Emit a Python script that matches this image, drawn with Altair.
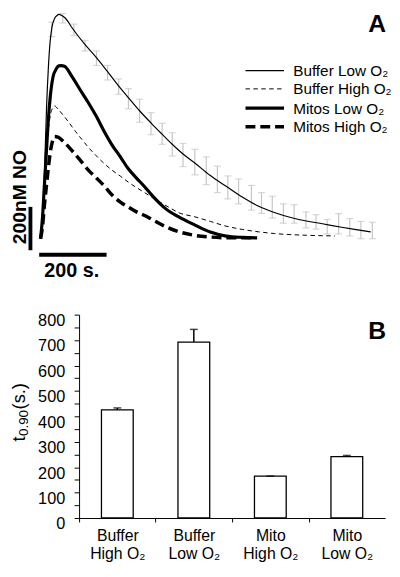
import altair as alt
import pandas as pd

# ---------------- Panel A: NO traces (time in s, concentration in nM) ----------------
bl_t = [0, 4, 9, 13, 18, 23, 28, 34, 42, 49, 54, 63, 74, 94, 131, 166, 200, 231, 260, 294,
        329, 360, 391, 423, 457, 503, 551, 600, 646, 694, 743, 789, 837, 894, 937, 980]
bl_c = [0, 71, 191, 369, 613, 782, 902, 978, 1018, 1031, 1036, 1031, 1018, 973, 898, 836, 769, 707, 653, 591,
        533, 484, 436, 391, 351, 293, 242, 191, 151, 121, 98, 82, 69, 53, 42, 32]

bh_t = [0, 6, 11, 17, 23, 29, 36, 42, 51, 66, 86, 104, 123, 142, 166, 189, 211, 237, 260, 285,
        309, 331, 360, 389, 409, 456, 504, 551, 599, 647, 694, 789, 874]
bh_c = [0, 102, 236, 391, 502, 569, 604, 613, 600, 573, 533, 495, 458, 422, 382, 347, 318, 289, 262, 236,
        213, 191, 164, 138, 121, 102, 80, 58, 43, 32, 24, 16, 13]

ml_t = [0, 6, 11, 17, 23, 29, 37, 46, 54, 61, 71, 94, 117, 142, 166, 189, 211, 237, 260, 285,
        309, 331, 371, 409, 456, 504, 551, 599, 643]
ml_c = [0, 102, 236, 391, 547, 658, 747, 782, 798, 799, 796, 747, 689, 628, 564, 495, 436, 378, 324, 280,
        240, 200, 139, 102, 65, 31, 12, 6, 4]

mh_t = [0, 6, 11, 17, 23, 29, 36, 42, 54, 71, 94, 117, 142, 166, 189, 211, 237, 260, 285, 309,
        331, 371, 409, 456, 504, 560, 637]
mh_c = [0, 58, 147, 236, 324, 400, 453, 472, 467, 444, 406, 364, 317, 280, 244, 204, 169, 147, 124, 107,
        89, 56, 33, 16, 8, 4, 4]

# error bars on Buffer Low O2
err_t = [33, 66, 99, 132, 166, 199, 232, 261, 294, 328, 361, 391, 423, 458, 492, 525, 556, 588, 626, 656,
         688, 721, 753, 788, 818, 851, 885, 918, 951, 985]
err_hi = [1000, 1040, 991, 916, 867, 800, 738, 693, 644, 582, 533, 489, 440, 413, 378, 335, 290, 276, 246, 213,
          196, 161, 157, 124, 111, 89, 116, 93, 80, 76]
err_lo = [933, 996, 938, 867, 800, 733, 667, 600, 538, 480, 436, 382, 333, 295, 250, 213, 184, 161, 132, 117,
          95, 72, 72, 50, 44, 22, 22, 13, 0, 0]

series_names = ["Buffer Low O\u2082", "Buffer High O\u2082", "Mitos Low O\u2082", "Mitos High O\u2082"]

# scale bars: 200 nM and 200 s
sbar_v_t = [-30]
sbar_v_c = [-53, 147]
sbar_h_t = [-4, 196]
sbar_h_c = [-74]

# ---------------- Panel B: t0.90 bars ----------------
categories = ["Buffer\nHigh O\u2082", "Buffer\nLow O\u2082", "Mito\nHigh O\u2082", "Mito\nLow O\u2082"]
t90 = [425, 692, 165, 241]
t90_top = [433, 742, 165, 246]
y_ticks = [0, 50, 100, 150, 200, 250, 300, 350, 400, 450, 500, 550, 600, 650, 700, 750, 800]

FONT = "Liberation Sans"
W = 310
HA = 288
HB = 206

styles = [
    dict(strokeWidth=1.2),
    dict(strokeWidth=1.0, strokeDash=[4.5, 3.5]),
    dict(strokeWidth=3.2),
    dict(strokeWidth=3.5, strokeDash=[10, 5]),
]

xsA = alt.Scale(domain=[114.4, 1022.9], nice=False, zero=False)
ysA = alt.Scale(domain=[-263.9, 1048.8], nice=False, zero=False)


def xA(f):
    return alt.X(f, type="quantitative", scale=xsA, axis=None)


def yA(f):
    return alt.Y(f, type="quantitative", scale=ysA, axis=None)


err_df = pd.DataFrame({"t": err_t, "lo": err_lo, "hi": err_hi})
ERR_COL = "#c6c6c6"
err_rule = alt.Chart(err_df).mark_rule(color=ERR_COL, strokeWidth=1.2).encode(
    x=xA("t"), y=yA("lo"), y2="hi")
err_cap_lo = alt.Chart(err_df).mark_tick(color=ERR_COL, thickness=1.2, size=7, orient="horizontal").encode(
    x=xA("t"), y=yA("lo"))
err_cap_hi = alt.Chart(err_df).mark_tick(color=ERR_COL, thickness=1.2, size=7, orient="horizontal").encode(
    x=xA("t"), y=yA("hi"))

layersA = [err_rule, err_cap_lo, err_cap_hi]
for name, ts, cs, st in zip(series_names, [bl_t, bh_t, ml_t, mh_t], [bl_c, bh_c, ml_c, mh_c], styles):
    df = pd.DataFrame({"t": ts, "c": cs, "series": name})
    layersA.append(
        alt.Chart(df).mark_line(color="black", interpolate="monotone", **st).encode(
            x=xA("t"), y=yA("c"), order="t:Q")
    )

vbar = alt.Chart(pd.DataFrame({"t": sbar_v_t, "c0": [sbar_v_c[0]], "c1": [sbar_v_c[1]]})).mark_rule(
    color="black", strokeWidth=3.9).encode(x=xA("t"), y=yA("c0"), y2="c1")
hbar = alt.Chart(pd.DataFrame({"t0": [sbar_h_t[0]], "t1": [sbar_h_t[1]], "c": sbar_h_c})).mark_rule(
    color="black", strokeWidth=3.9).encode(x=xA("t0"), x2="t1", y=yA("c"))
layersA += [vbar, hbar]

# invisible spacer fixing the left edge of the layout
spacer = alt.Chart(pd.DataFrame({"s": [0]})).mark_rule(strokeOpacity=0, strokeWidth=1).encode(
    x=alt.value(-71.7), y=alt.value(150), y2=alt.value(151))

lab_nm = alt.Chart(pd.DataFrame({"s": ["200nM NO"]})).mark_text(
    angle=270, fontWeight="bold", fontSize=19.5, align="center", baseline="alphabetic", color="black"
).encode(text="s:N", x=alt.value(-54), y=alt.value(188))
lab_s = alt.Chart(pd.DataFrame({"s": ["200 s."]})).mark_text(
    fontWeight="bold", fontSize=20, align="center", baseline="alphabetic", color="black"
).encode(text="s:N", x=alt.value(-7.4), y=alt.value(268.4))
lab_A = alt.Chart(pd.DataFrame({"s": ["A"]})).mark_text(
    fontWeight="bold", fontSize=25, align="right", baseline="alphabetic", color="black"
).encode(text="s:N", x=alt.value(311), y=alt.value(20.8))
layersA += [spacer, lab_nm, lab_s, lab_A]

rows_y = [59.8, 78.3, 97.8, 116.7]
for name, st, ry in zip(series_names, styles, rows_y):
    ldf = pd.DataFrame({"s": [name]})
    layersA.append(alt.Chart(ldf).mark_rule(color="black", **st).encode(
        x=alt.value(168.6), x2=alt.value(207.6), y=alt.value(ry)))
    layersA.append(alt.Chart(ldf).mark_text(
        align="left", baseline="middle", fontSize=15.5, color="black").encode(
        text="s:N", x=alt.value(216.9), y=alt.value(ry + 0.5)))

panelA = alt.layer(*layersA).properties(width=W, height=HA)

# ---------------- Panel B ----------------
bdf = pd.DataFrame({"cat": categories, "val": t90, "top": t90_top})
half_step = W / 4 / 2
x_axis_B = alt.Axis(title=None, labelAngle=0, labelExpr="split(datum.label, '\\n')",
                    labelFontSize=16, labelLineHeight=18.8, labelPadding=5.4, labelColor="black",
                    tickSize=4, tickColor="black", tickOffset=-half_step, labelOffset=half_step,
                    domainColor="black", grid=False, labelBaseline="top")
y_axis_B = alt.Axis(title=None, values=y_ticks,
                    labelExpr="datum.value % 100 == 0 ? datum.label : ''",
                    labelFontSize=16.5, labelPadding=9.5, labelOffset=6, labelOverlap=False,
                    labelFlush=False, tickSize=5, tickColor="black", domainColor="black",
                    grid=False, labelColor="black")
x_scale_B = alt.Scale(paddingInner=0.585, paddingOuter=0.2925)
y_scale_B = alt.Scale(domain=[0, 800], nice=False)


def xB():
    return alt.X("cat:N", sort=categories, scale=x_scale_B, axis=x_axis_B)


def yB(f):
    return alt.Y(f, type="quantitative", scale=y_scale_B, axis=y_axis_B)


bars = alt.Chart(bdf).mark_bar(fill="white", stroke="black", strokeWidth=1.3).encode(x=xB(), y=yB("val"))
e_rule = alt.Chart(bdf).mark_rule(color="black", strokeWidth=1.5).encode(x=xB(), y=yB("val"), y2="top:Q")
e_cap = alt.Chart(bdf).mark_tick(color="black", thickness=1.5, size=8).encode(x=xB(), y=yB("top"))

lab_B = alt.Chart(pd.DataFrame({"s": ["B"]})).mark_text(
    fontWeight="bold", fontSize=25, align="right", baseline="alphabetic", color="black"
).encode(text="s:N", x=alt.value(311), y=alt.value(24.2))
tt_main = alt.Chart(pd.DataFrame({"s": ["t"]})).mark_text(
    angle=270, fontSize=18.5, align="left", baseline="alphabetic", color="black"
).encode(text="s:N", x=alt.value(-55), y=alt.value(128.5))
tt_sub = alt.Chart(pd.DataFrame({"s": ["0.90"]})).mark_text(
    angle=270, fontSize=13.5, align="left", baseline="alphabetic", color="black"
).encode(text="s:N", x=alt.value(-52), y=alt.value(122.9))
tt_unit = alt.Chart(pd.DataFrame({"s": ["(s.)"]})).mark_text(
    angle=270, fontSize=18.5, align="left", baseline="alphabetic", color="black"
).encode(text="s:N", x=alt.value(-55), y=alt.value(96))

panelB = alt.layer(bars, e_rule, e_cap, lab_B, tt_main, tt_sub, tt_unit).properties(width=W, height=HB)

chart = alt.vconcat(panelA, panelB, spacing=19, bounds="flush").properties(padding=0).configure(
    font=FONT).configure_view(strokeWidth=0)

chart.save("out.html", embed_options={"renderer": "svg", "actions": False})
